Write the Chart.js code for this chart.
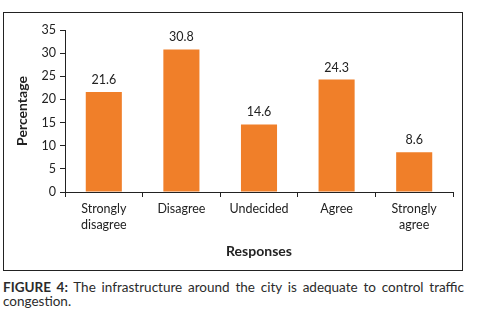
<!DOCTYPE html>
<html>
<head>
<meta charset="utf-8">
<script src="https://cdn.jsdelivr.net/npm/chart.js@4"></script>
<style>
  html, body { margin: 0; padding: 0; background: #fff; }
  body { width: 478px; height: 324px; position: relative; overflow: hidden; font-family: Lato, "Open Sans", sans-serif; }
  #box { position: absolute; left: 3px; top: 12px; width: 458px; height: 257px; border: 1px solid #222; }
  #c { display: block; }
  #cap { position: absolute; left: 3px; top: 280px; width: 461px; font-size: 13.5px; line-height: 14px; color: #2b2b2b; }
  #cap .l1 { text-align: justify; text-align-last: justify; white-space: nowrap; }
  #cap b { font-weight: bold; }
</style>
</head>
<body>
<div id="box"><canvas id="c" width="458" height="257"></canvas></div>
<div id="cap">
  <div class="l1"><b>FIGURE 4:</b> The infrastructure around the city is adequate to control traffic</div>
  <div>congestion.</div>
</div>
<script>
const categories = [["Strongly", "disagree"], "Disagree", "Undecided", "Agree", ["Strongly", "agree"]];
const values = [21.6, 30.8, 14.6, 24.3, 8.6];
const valueLabels = ["21.6", "30.8", "14.6", "24.3", "8.6"];
const yTicks = [0, 5, 10, 15, 20, 25, 30, 35];

const FONT = 'Lato, "Open Sans", sans-serif';
const TXT = '#222222';

const labelPlugin = {
  id: 'valueLabels',
  afterDatasetsDraw(chart) {
    const ctx = chart.ctx;
    const meta = chart.getDatasetMeta(0);
    ctx.save();
    ctx.font = '12.5px ' + FONT;
    ctx.fillStyle = TXT;
    ctx.textAlign = 'center';
    ctx.textBaseline = 'alphabetic';
    meta.data.forEach((bar, i) => {
      ctx.fillText(valueLabels[i], bar.x, bar.y - 8);
    });
    ctx.restore();
  }
};

new Chart(document.getElementById('c'), {
  type: 'bar',
  data: {
    labels: categories,
    datasets: [{
      data: values,
      backgroundColor: '#F07F29',
      borderWidth: 0,
      categoryPercentage: 1,
      barPercentage: 0.465
    }]
  },
  options: {
    responsive: false,
    animation: false,
    layout: { padding: { left: 0, top: 17, right: 9, bottom: 0 } },
    plugins: { legend: { display: false }, tooltip: { enabled: false } },
    scales: {
      x: {
        offset: true,
        grid: { offset: true, drawOnChartArea: false, drawTicks: true, tickLength: 5, color: TXT, lineWidth: 1 },
        border: { color: TXT, width: 1 },
        ticks: { color: TXT, font: { family: FONT, size: 12.5, lineHeight: 1.28 }, padding: 4, maxRotation: 0, autoSkip: false },
        title: { display: true, text: 'Responses', color: TXT, font: { family: FONT, size: 14, weight: 'bold' }, padding: { top: 0, bottom: 10 } },
        afterFit(scale) { scale.height = 78; }
      },
      y: {
        min: 0, max: 35,
        afterBuildTicks(scale) { scale.ticks = yTicks.map(v => ({ value: v })); },
        grid: { drawOnChartArea: false, drawTicks: true, tickLength: 5, color: TXT, lineWidth: 1 },
        border: { color: TXT, width: 1 },
        ticks: { color: TXT, font: { family: FONT, size: 12.5 }, padding: 4 },
        title: { display: true, text: 'Percentage', color: TXT, font: { family: FONT, size: 14, weight: 'bold' }, padding: { top: 10, bottom: 0 } },
        afterFit(scale) { scale.width = 61; }
      }
    }
  },
  plugins: [labelPlugin]
});
</script>
</body>
</html>
